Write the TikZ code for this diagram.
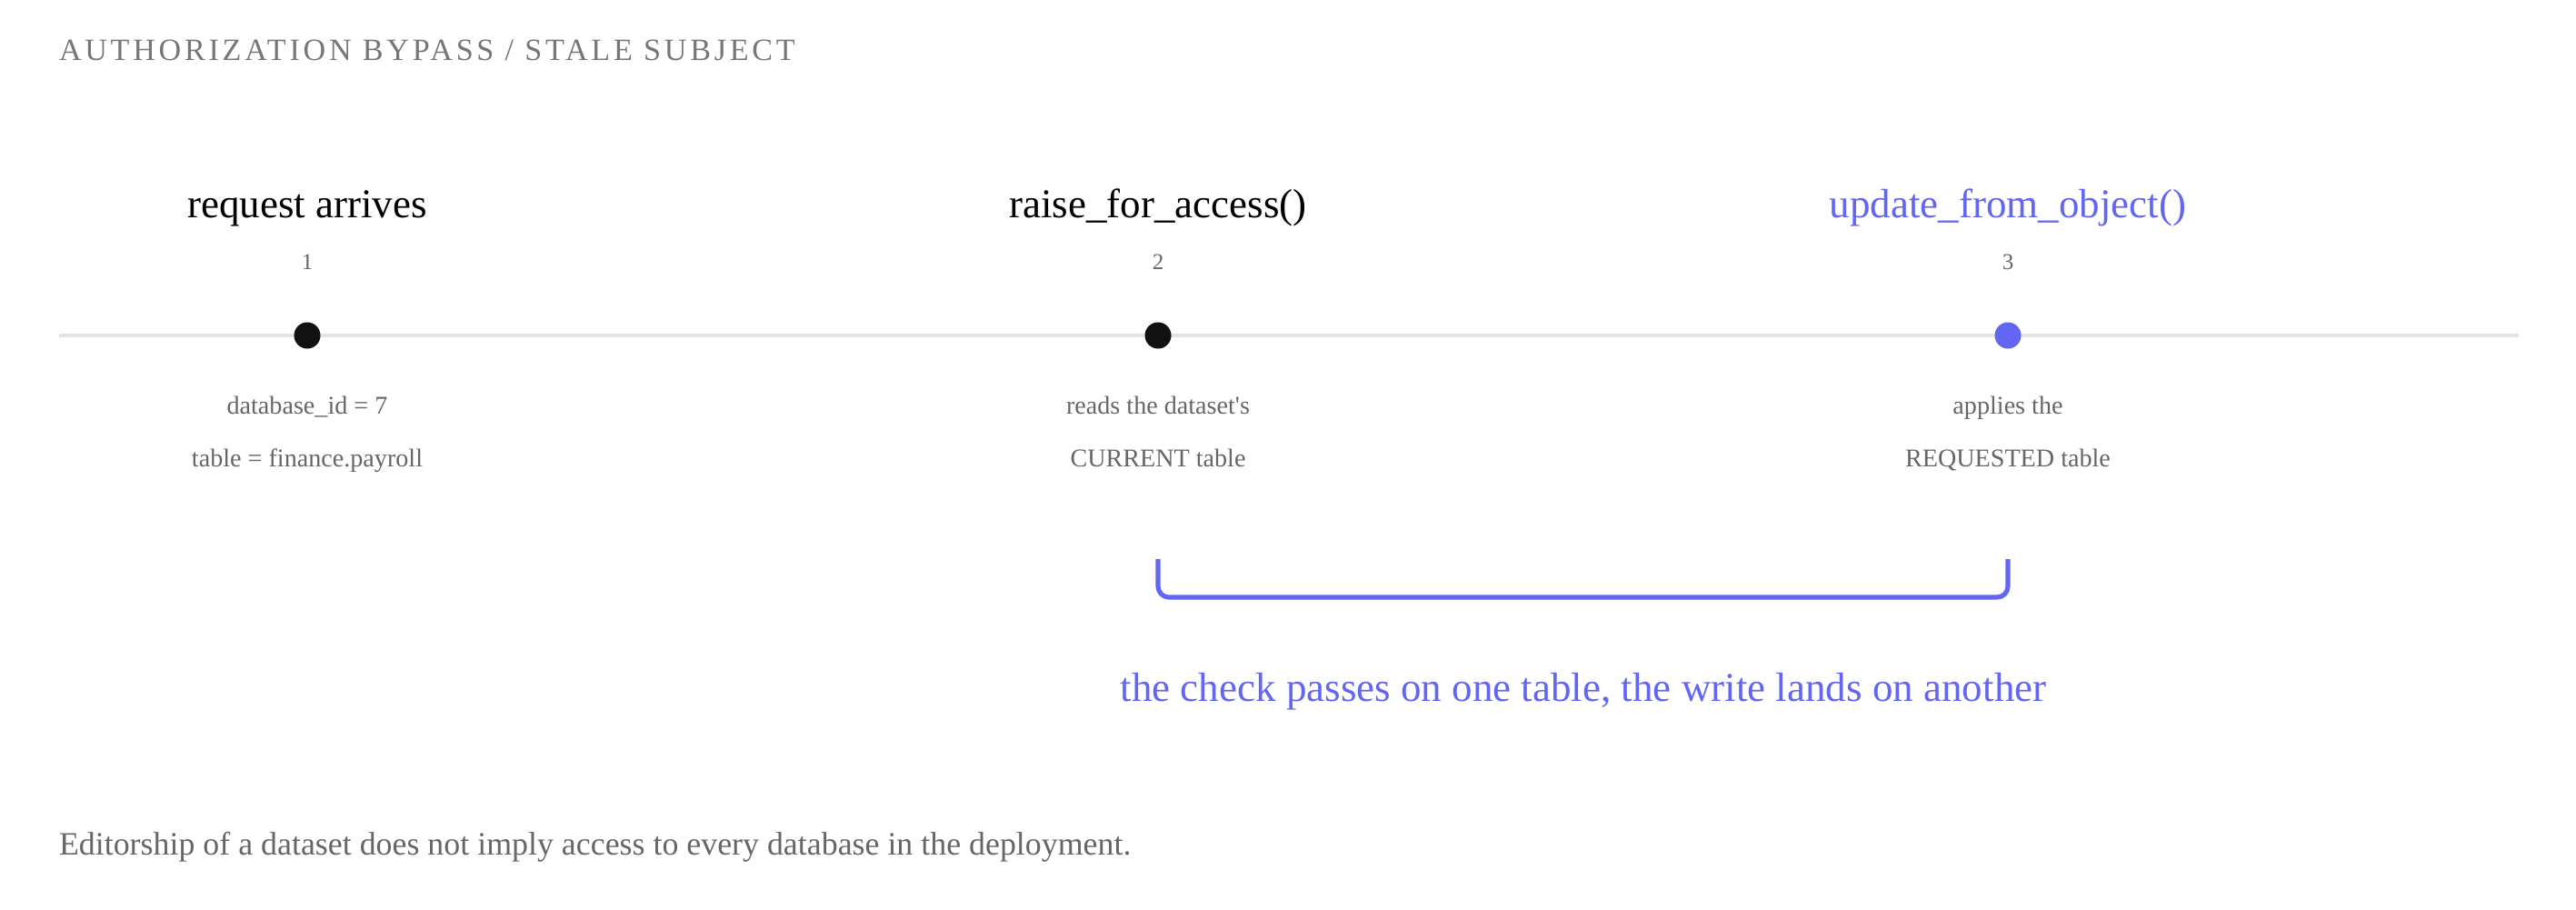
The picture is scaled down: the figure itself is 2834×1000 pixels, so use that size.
\documentclass[tikz,border=0pt]{standalone}
\usepackage{fontspec}
\setmainfont{Liberation Serif}
\newfontfamily\spacedfont[LetterSpace=11]{Liberation Serif}
\usepackage{tikz}
\usetikzlibrary{positioning,calc}
\definecolor{accent}{HTML}{6366F1}
\definecolor{muted}{HTML}{666666}
\definecolor{faint}{HTML}{767676}
\definecolor{rule}{HTML}{E3E3E3}
\definecolor{ink}{HTML}{111111}

\begin{document}
\begin{tikzpicture}[x=0.01cm, y=-0.01cm,
    every node/.style={inner sep=0pt, outer sep=0pt},
    heading/.style={anchor=base, font=\fontsize{12.8pt}{15pt}\selectfont},
    stepnum/.style={anchor=base, text=muted, font=\fontsize{7.1pt}{9pt}\selectfont},
    note/.style={anchor=base, text=muted, font=\fontsize{8pt}{10pt}\selectfont},
    dot/.style={circle, fill=ink, minimum size=0.29cm},
    bracket/.style={draw=accent, line width=1.45pt, rounded corners=0.12cm}]
    \useasboundingbox (0,0) rectangle (2834,1000);

    \node[anchor=base west, text=faint, font=\spacedfont\fontsize{9.7pt}{12pt}\selectfont] (title) at (65,66) {AUTHORIZATION BYPASS / STALE SUBJECT};

    % timeline
    \coordinate (lineL) at (65,369);
    \coordinate (lineR) at (2771,369);
    \draw[rule, line width=0.9pt] (lineL) -- (lineR);

    \node[dot] (d1) at (338,369) {};
    \node[dot] (d2) at (1274,369) {};
    \node[dot, fill=accent] (d3) at (2209,369) {};

    \node[heading] (h1) at (338,239) {request arrives};
    \node[heading] (h2) at (1274,239) {raise\_for\_access()};
    \node[heading, text=accent] (h3) at (2209,239) {update\_from\_object()};

    \node[stepnum] (n1) at (338,296) {1};
    \node[stepnum] (n2) at (1274,296) {2};
    \node[stepnum] (n3) at (2209,296) {3};

    \node[note] (a1) at (338,455) {database\_id = 7};
    \node[note] (b1) at (338,513) {table = finance.payroll};
    \node[note] (a2) at (1274,455) {reads the dataset\textquotesingle s};
    \node[note] (b2) at (1274,513) {CURRENT table};
    \node[note] (a3) at (2209,455) {applies the};
    \node[note] (b3) at (2209,513) {REQUESTED table};

    % bracket between check and write
    \coordinate (br2) at (d2 |- 0,615);
    \coordinate (br3) at (d3 |- 0,615);
    \draw[bracket] (br2) -- ++(0,42) -| (br3);
    \node[heading, text=accent] (gap) at (1742,771) {the check passes on one table, the write lands on another};

    \node[anchor=base west, text=muted, font=\fontsize{10.2pt}{12pt}\selectfont] (foot) at (65,940) {Editorship of a dataset does not imply access to every database in the deployment.};
\end{tikzpicture}
\end{document}
